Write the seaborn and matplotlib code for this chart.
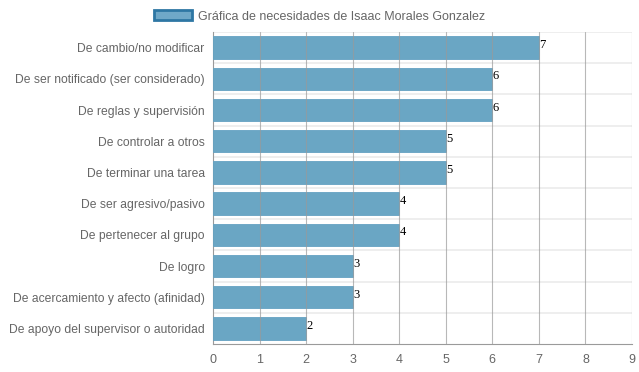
import pandas as pd
import seaborn as sns
import matplotlib.pyplot as plt
from matplotlib.patches import Patch

# Datos de la gráfica
necesidades = [
    "De cambio/no modificar",
    "De ser notificado (ser considerado)",
    "De reglas y supervisión",
    "De controlar a otros",
    "De terminar una tarea",
    "De ser agresivo/pasivo",
    "De pertenecer al grupo",
    "De logro",
    "De acercamiento y afecto (afinidad)",
    "De apoyo del supervisor o autoridad",
]
valores = [7, 6, 6, 5, 5, 4, 4, 3, 3, 2]
titulo_leyenda = "Gráfica de necesidades de Isaac Morales Gonzalez"

df = pd.DataFrame({"Necesidad": necesidades, "Valor": valores})

sns.set_style("white")
plt.rcParams["font.family"] = ["Liberation Sans", "DejaVu Sans"]

fig = plt.figure(figsize=(6.39, 3.72), dpi=100)
ax = fig.add_axes([213 / 639, 1 - 344 / 372, (632 - 213) / 639, (344 - 32) / 372])

color_barra = "#6aa6c4"
sns.barplot(data=df, y="Necesidad", x="Valor", orient="h", color=color_barra,
            saturation=1, width=0.72, ax=ax, zorder=3)
for p in ax.patches:
    p.set_edgecolor("#64a2c2")
    p.set_linewidth(0.6)

# etiquetas de valor
for i, v in enumerate(valores):
    ax.text(v + 0.01, i - 0.08, str(v), family="Liberation Serif", fontsize=9,
            color="#000000", va="center", ha="left", zorder=4)

ax.set_xlim(0, 9)
ax.set_ylim(len(necesidades) - 0.5, -0.5)
ax.set_xticks(range(10))
ax.set_yticks([y - 0.5 for y in range(len(necesidades) + 1)], minor=True)
ax.set_xlabel("")
ax.set_ylabel("")

# rejilla
for x in range(1, 10):
    ax.axvline(x, color="#9a9a9a", lw=0.8, zorder=5, alpha=0.7)
for y in range(len(necesidades)):
    ax.axhline(y - 0.5, color="#ebebeb", lw=1.2, zorder=1)

for s in ["top", "right"]:
    ax.spines[s].set_visible(False)
ax.spines["left"].set_color("#9a9a9a")
ax.spines["left"].set_linewidth(0.8)
ax.spines["bottom"].set_color("#9a9a9a")
ax.spines["bottom"].set_linewidth(0.8)

ax.tick_params(axis="x", colors="#9a9a9a", labelsize=9, length=5, width=0.8,
               labelcolor="#666666", pad=2)
ax.tick_params(axis="y", which="major", labelsize=8.7, length=0,
               labelcolor="#666666", pad=6)
ax.tick_params(axis="y", which="minor", length=5, width=1.2, color="#e6e6e6")

# leyenda
handle = Patch(facecolor="#6fa8c8", edgecolor="#2e77a4", linewidth=2)
fig.legend(handles=[handle], labels=[titulo_leyenda], loc="upper center",
           bbox_to_anchor=(0.5, 1.0), frameon=False, fontsize=9,
           labelcolor="#666666", handlelength=3.0, handleheight=0.9,
           handletextpad=0.5, borderpad=0.3)

fig.savefig("out.png", dpi=100)
